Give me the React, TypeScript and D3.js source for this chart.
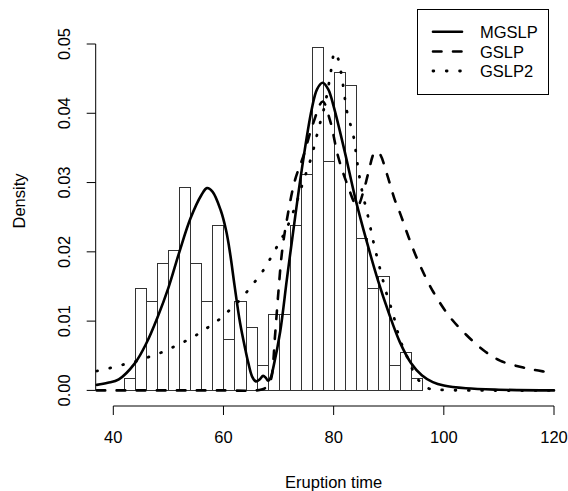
import React from "react";
import * as d3 from "d3";

// Histogram of eruption (waiting) times, bins of width 2
const binStarts = [42,44,46,48,50,52,54,56,58,60,62,64,66,68,70,72,74,76,78,80,82,84,86,88,90,92,94];
const binDensity = [0.00184,0.01471,0.01287,0.01838,0.02022,0.02941,0.01838,0.01287,0.0239,0.00735,0.01287,0.00919,0.00368,0.01103,0.01103,0.0239,0.03125,0.04963,0.03309,0.04596,0.04412,0.02206,0.01471,0.01654,0.00368,0.00551,0.00184];
const binWidth = 2;

// MGSLP (solid)
const mgslpX = [37,39,41,43.9,46,48,50,52,54,56,57,58,59.5,60.5,61.2,62,63,64,64.5,65.2,65.9,66.6,67.2,67.7,68.1,68.6,69.1,70.3,71.5,72.5,74.2,76,77,78,79,80,82,84,86,88,90,92,94,96,98,100,104,110,120];
const mgslpY = [0.0008,0.0011,0.0016,0.0039,0.0068,0.0105,0.0148,0.02,0.0248,0.0282,0.0292,0.0287,0.026,0.023,0.0198,0.0152,0.0098,0.0058,0.004,0.002,0.0013,0.0016,0.0021,0.0018,0.0014,0.0019,0.0035,0.0085,0.016,0.022,0.0318,0.0405,0.0435,0.0444,0.0435,0.041,0.0345,0.0275,0.0215,0.016,0.0112,0.007,0.004,0.0022,0.0012,0.0007,0.0003,0.0001,0];

// GSLP (dashed)
const gslpX = [37,50,60,66,67.5,68.3,68.75,69.35,69.95,70.6,71.5,73,74.5,76.3,78,79.3,80.8,82.4,84.3,85.5,86.3,87.5,88.3,89.6,91.1,92,93.8,95.7,98.1,101.1,104.1,107.2,110.2,115,118.3,120];
const gslpY = [0,0,0,0,0.0003,0.001,0.002,0.0078,0.014,0.0198,0.0246,0.0304,0.0338,0.0386,0.0417,0.0391,0.0338,0.0299,0.0266,0.029,0.0314,0.0344,0.0342,0.0314,0.0275,0.0257,0.0217,0.018,0.0142,0.0106,0.008,0.0058,0.0043,0.0032,0.0027,0.0025];

// GSLP2 (dotted)
const gslp2X = [37,40.3,42.6,45,47.3,49.5,51.7,53.8,55.9,57.9,59.8,61.6,63.3,64.8,66.3,67.7,68.9,70.1,71.2,73,74.5,76,77.2,78.4,79.3,80.2,80.8,81.7,82.4,83.6,84.3,85.1,86.3,87.2,88.4,89.6,90.8,91.6,92.3,93.3,94.2,95.4,97.2,99,105,120];
const gslp2Y = [0.0028,0.0034,0.0039,0.0044,0.0051,0.0057,0.0066,0.0074,0.0084,0.0095,0.0106,0.012,0.0133,0.0148,0.0163,0.0179,0.0196,0.0213,0.0229,0.0265,0.0302,0.0338,0.0376,0.0412,0.045,0.0488,0.0479,0.0441,0.0403,0.0367,0.0328,0.029,0.0249,0.0215,0.0176,0.014,0.011,0.0085,0.0068,0.0049,0.0032,0.0015,0.0003,0.0001,0,0];

const xTicks = [40,60,80,100,120];
const yTicks = [0,0.01,0.02,0.03,0.04,0.05];
const yTickLabels = ["0.00","0.01","0.02","0.03","0.04","0.05"];
const legendLabels = ["MGSLP","GSLP","GSLP2"];
const legendDash = ["none","8.5 11.5","0.8 12.5"];

const W = 568, H = 491;
const FONT = "'Liberation Sans', Arial, Helvetica, sans-serif";

export default function App() {
  const x = d3.scaleLinear().domain([40,120]).range([113.3,554]);
  const y = d3.scaleLinear().domain([0,0.05]).range([390.4,44]);
  const line = d3.line<[number,number]>().x(d=>x(d[0])).y(d=>y(d[1])).curve(d3.curveCatmullRom.alpha(0.5));
  const mk = (xs:number[], ys:number[]) => line(xs.map((v,i)=>[v, ys[i]] as [number,number])) || "";
  const axisY = 406;
  const axisX = 95.7;
  const fs = 16.5;
  const legX = 417.5, legY = 9.5, legW = 131, legH = 85;
  const legRows = [31.7, 51.5, 71];
  return (
    <svg width={W} height={H} style={{position:"absolute",left:0,top:0,background:"#fff"}} fontFamily={FONT}>
      <rect x={0} y={0} width={W} height={H} fill="#fff"/>
      {binStarts.map((b,i)=>{
        const x0 = Math.round(x(b))+0.5, x1 = Math.round(x(b+binWidth))+0.5;
        const yt = Math.round(y(binDensity[i]))+0.5, yb = Math.round(y(0))+0.5;
        return <rect key={i} x={x0} y={yt} width={x1-x0} height={yb-yt} fill="none" stroke="#333" strokeWidth={1}/>;
      })}
      <path d={mk(mgslpX,mgslpY)} fill="none" stroke="#000" strokeWidth={2.6} strokeLinecap="round" strokeLinejoin="round"/>
      <path d={mk(gslpX,gslpY)} fill="none" stroke="#000" strokeWidth={2.6} strokeDasharray="8.5 11.5" strokeLinecap="round"/>
      <path d={mk(gslp2X,gslp2Y)} fill="none" stroke="#000" strokeWidth={2.8} strokeDasharray="0.8 12.5" strokeLinecap="round"/>
      {/* x axis */}
      <line x1={x(40)} x2={x(120)} y1={axisY} y2={axisY} stroke="#000" strokeWidth={1}/>
      {xTicks.map(t=>(
        <g key={t}>
          <line x1={x(t)} x2={x(t)} y1={axisY} y2={axisY+9} stroke="#000" strokeWidth={1}/>
          <text x={x(t)} y={443} textAnchor="middle" fontSize={fs}>{t}</text>
        </g>
      ))}
      <text x={(x(36.8)+x(123.2))/2} y={488} textAnchor="middle" fontSize={fs}>Eruption time</text>
      {/* y axis */}
      <line x1={axisX} x2={axisX} y1={y(0)} y2={y(0.05)} stroke="#000" strokeWidth={1}/>
      {yTicks.map((t,i)=>(
        <g key={t}>
          <line x1={axisX-9} x2={axisX} y1={y(t)} y2={y(t)} stroke="#000" strokeWidth={1}/>
          <text transform={`translate(70,${y(t)}) rotate(-90)`} textAnchor="middle" fontSize={fs}>{yTickLabels[i]}</text>
        </g>
      ))}
      <text transform={`translate(25,201) rotate(-90)`} textAnchor="middle" fontSize={fs}>Density</text>
      {/* legend */}
      <rect x={legX} y={legY} width={legW} height={legH} fill="#fff" stroke="#000" strokeWidth={1}/>
      {legendLabels.map((l,i)=>(
        <g key={l}>
          <line x1={433} x2={462} y1={legRows[i]} y2={legRows[i]} stroke="#000" strokeWidth={i===2?2.8:2.6} strokeDasharray={legendDash[i]} strokeLinecap="round"/>
          <text x={480} y={legRows[i]+6} fontSize={fs}>{l}</text>
        </g>
      ))}
    </svg>
  );
}
